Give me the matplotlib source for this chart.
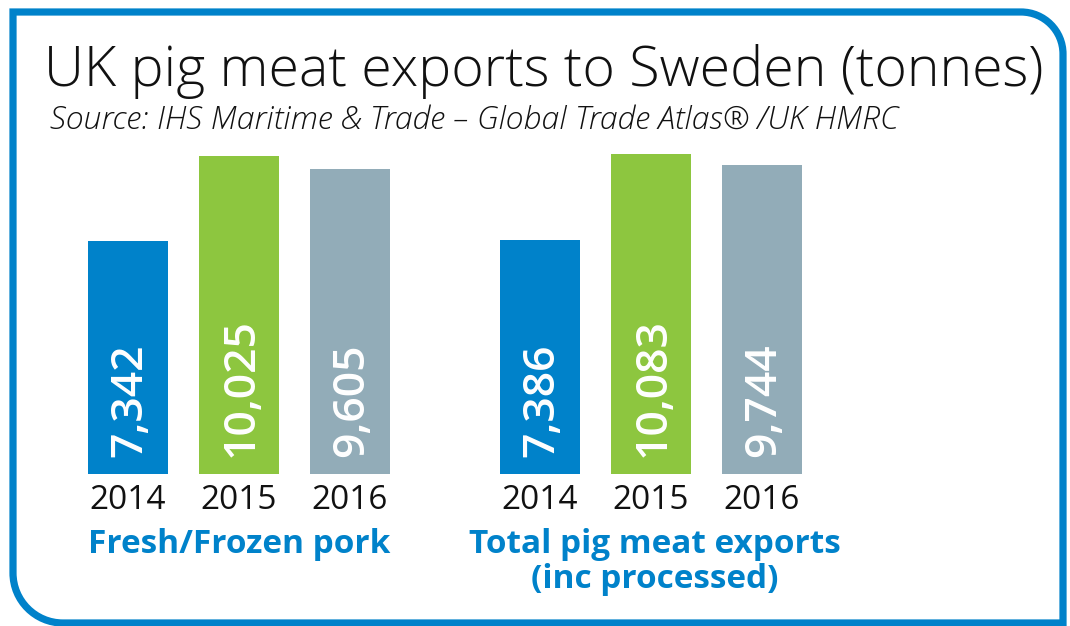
import numpy as np
import matplotlib.pyplot as plt
from matplotlib.path import Path
import matplotlib.patches as mpatches

# data
years = ["2014", "2015", "2016"]
fresh_frozen = [7342, 10025, 9605]
total_exports = [7386, 10083, 9744]
group_names = [["Fresh/Frozen pork"], ["Total pig meat exports", "(inc processed)"]]
bar_colors = ["#0082CA", "#8DC63F", "#92ACB8"]

title = "UK pig meat exports to Sweden (tonnes)"
source = "Source: IHS Maritime & Trade \u2013 Global Trade Atlas\u00ae /UK HMRC"

W, H = 1070, 626
blue = "#0082CA"
fnt = ["Open Sans", "DejaVu Sans"]

fig = plt.figure(figsize=(W / 100, H / 100), dpi=100)

# background axes in pixel coords, for frame and texts
bg = fig.add_axes([0, 0, 1, 1])
bg.set_xlim(0, W)
bg.set_ylim(H, 0)
bg.axis("off")

# frame: square top-left and bottom-right, rounded top-right and bottom-left
x0, y0, x1, y1 = 13, 12, 1063, 623
r1, r2 = 42, 50
k = 0.5523
verts = [(x0, y0), (x1 - r1, y0),
         (x1 - r1 + k * r1, y0), (x1, y0 + r1 - k * r1), (x1, y0 + r1),
         (x1, y1), (x0 + r2, y1),
         (x0 + r2 - k * r2, y1), (x0, y1 - r2 + k * r2), (x0, y1 - r2),
         (x0, y0)]
codes = [Path.MOVETO, Path.LINETO,
         Path.CURVE4, Path.CURVE4, Path.CURVE4,
         Path.LINETO, Path.LINETO,
         Path.CURVE4, Path.CURVE4, Path.CURVE4,
         Path.CLOSEPOLY]
bg.add_patch(mpatches.PathPatch(Path(verts, codes), fill=False, edgecolor=blue,
                                lw=5.2, joinstyle="miter", clip_on=False))

bg.text(44, 86, title, fontsize=40, family=fnt, weight="light", color="#111111",
        ha="left", va="baseline")
bg.text(50, 129, source, fontsize=23, family=fnt, style="italic", weight="light",
        color="#111111", ha="left", va="baseline")

# bar axes: baseline at pixel 474
base_px = 474
top_px = 140
px_per_t = 318 / 10025.0
ax = fig.add_axes([0, (H - base_px) / H, 1, (base_px - top_px) / H])
ax.set_xlim(0, W)
ax.set_ylim(0, (base_px - top_px) / px_per_t)
ax.axis("off")

bar_w = 80
step = 111
group_start = [128, 540]
for g, vals in enumerate([fresh_frozen, total_exports]):
    xs = group_start[g] + step * np.arange(len(vals))
    ax.bar(xs, vals, width=bar_w, color=bar_colors, linewidth=0)
    for x, v in zip(xs, vals):
        ax.text(x + 2, 17 / px_per_t, f"{v:,}", rotation=90, ha="center", va="bottom",
                fontsize=32, family=fnt, weight="semibold", color="white")
    for x, yr in zip(xs, years):
        bg.text(x, 509, yr, ha="center", va="baseline", fontsize=24, family=fnt,
                color="#111111")
    for j, line in enumerate(group_names[g]):
        bg.text(xs.mean() + (0 if g == 0 else 4), 553 + 35 * j, line, ha="center",
                va="baseline", fontsize=24, family=fnt, weight="bold", color=blue)

fig.savefig("out.png", dpi=100)
